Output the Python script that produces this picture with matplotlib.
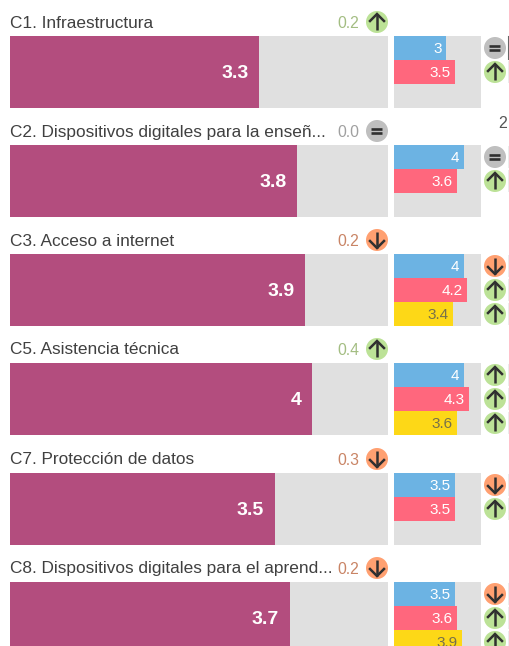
import matplotlib
matplotlib.use("Agg")
import matplotlib.pyplot as plt
from matplotlib.patches import Circle

plt.rcParams["font.family"] = ["Liberation Sans", "DejaVu Sans"]

# data
labels = [
    "C1. Infraestructura",
    "C2. Dispositivos digitales para la enseñ...",
    "C3. Acceso a internet",
    "C5. Asistencia técnica",
    "C7. Protección de datos",
    "C8. Dispositivos digitales para el aprend...",
]
main_values = [3.3, 3.8, 3.9, 4.0, 3.5, 3.7]
main_labels = ["3.3", "3.8", "3.9", "4", "3.5", "3.7"]
delta_labels = ["0.2", "0.0", "0.2", "0.4", "0.3", "0.2"]
delta_dirs = ["up", "same", "down", "up", "down", "down"]

blue_values = [3.0, 4.0, 4.0, 4.0, 3.5, 3.5]
blue_labels = ["3", "4", "4", "4", "3.5", "3.5"]
blue_dirs = ["same", "same", "down", "up", "down", "down"]
red_values = [3.5, 3.6, 4.2, 4.3, 3.5, 3.6]
red_labels = ["3.5", "3.6", "4.2", "4.3", "3.5", "3.6"]
red_dirs = ["up", "up", "up", "up", "up", "up"]
yellow_values = [None, None, 3.4, 3.6, None, 3.9]
yellow_labels = [None, None, "3.4", "3.6", None, "3.9"]
yellow_dirs = [None, None, "up", "up", None, "up"]

SCALE_MAX = 5
W, H = 510, 646
ROW_TOPS = [36, 145, 254, 363, 473, 582]
ROW_H = 72

COLORS = {"up": "#bce297", "down": "#ffa071", "same": "#bfbfbf"}
TEXT_COLORS = {"up": "#a3bd82", "down": "#c98465", "same": "#a0a0a0"}


def panel(fig, left, top, width, height):
    ax = fig.add_axes([left / W, 1 - (top + height) / H, width / W, height / H])
    ax.set_axis_off()
    ax.set_xlim(0, SCALE_MAX)
    return ax


def status_icon(ax, x, y, status, r=11):
    ax.add_patch(Circle((x, y), r, fc=COLORS[status], ec="none", zorder=3))
    if status == "same":
        style = dict(color="#303030", lw=1.9, solid_capstyle="butt", zorder=4)
        ax.plot([x - 5.5, x + 5.5], [y - 2.2, y - 2.2], **style)
        ax.plot([x - 5.5, x + 5.5], [y + 2.2, y + 2.2], **style)
    else:
        sign = -1 if status == "up" else 1
        ax.plot([x, x], [y - sign * 8, y + sign * 8],
                color="#303030", lw=1.8, solid_capstyle="butt", zorder=4)
        ax.plot([x - 7, x, x + 7], [y + sign * 1, y + sign * 8, y + sign * 1],
                color="#303030", lw=1.8, zorder=4, solid_joinstyle="miter")


fig = plt.figure(figsize=(W / 100, H / 100), dpi=100)
fig.patch.set_facecolor("white")

overlay = fig.add_axes([0, 0, 1, 1], zorder=5)
overlay.set_xlim(0, W)
overlay.set_ylim(H, 0)
overlay.set_axis_off()
overlay.patch.set_alpha(0)

for i, top in enumerate(ROW_TOPS):
    # main bar
    ax = panel(fig, 10, top, 378, ROW_H)
    ax.set_ylim(1, 0)
    ax.barh(0.5, SCALE_MAX, height=1, color="#e0e0e0")
    ax.barh(0.5, main_values[i], height=1, color="#b34d7e")
    ax.text(main_values[i] - 0.14, 0.52, main_labels[i], color="white", fontsize=14,
            fontweight="bold", ha="right", va="center")

    # small bars
    ax = panel(fig, 394, top, 87, ROW_H)
    ax.set_ylim(3, 0)
    ax.barh(1.5, SCALE_MAX, height=3, color="#e0e0e0")
    groups = [
        (blue_values, blue_labels, blue_dirs, "#6cb3e3", "white"),
        (red_values, red_labels, red_dirs, "#ff677d", "white"),
        (yellow_values, yellow_labels, yellow_dirs, "#fdd817", "#77704a"),
    ]
    for j, (vals, labs, dirs, col, tcol) in enumerate(groups):
        if vals[i] is None:
            continue
        ax.barh(j + 0.5, vals[i], height=1, color=col)
        ax.text(vals[i] - 0.25, j + 0.53, labs[i], color=tcol, fontsize=11,
                ha="right", va="center")
        status_icon(overlay, 495, top + 12 + j * 24, dirs[i])
        overlay.fill_between([508.5, 510], top + 1 + j * 24, top + 23 + j * 24,
                             color="#ececec", lw=0, zorder=2)

    # header
    overlay.text(10, top - 13, labels[i], fontsize=12.4, color="#404040",
                 ha="left", va="center")
    overlay.text(359.5, top - 12.5, delta_labels[i], fontsize=11.3,
                 color=TEXT_COLORS[delta_dirs[i]], ha="right", va="center")
    status_icon(overlay, 377, top - 14, delta_dirs[i])

overlay.text(503, 124, "2", fontsize=11.5, color="#555555", ha="center", va="center")
overlay.plot([509, 509], [37, 59], color="#666666", lw=1.5, zorder=3)

fig.savefig("out.png", dpi=100)
